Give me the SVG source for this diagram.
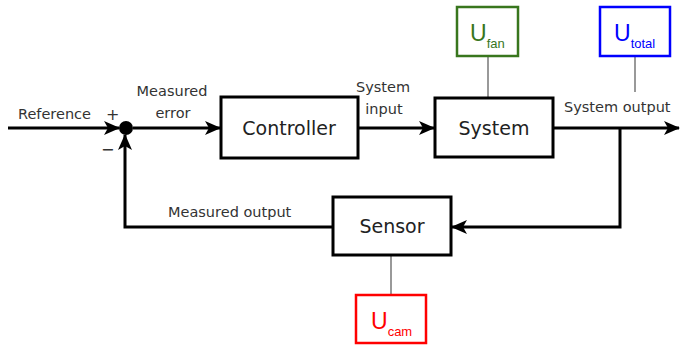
<svg xmlns="http://www.w3.org/2000/svg" width="681" height="347" viewBox="0 0 681 347">
<defs>
<marker id="arr" markerWidth="16" markerHeight="14" refX="15" refY="7" orient="auto" markerUnits="userSpaceOnUse">
<path d="M0,0 L16,7 L0,14 L4,7 z" fill="#000"/>
</marker>
<style>
.box{fill:#fff;stroke:#000;stroke-width:3}
.ln{fill:none;stroke:#000;stroke-width:3}
.lbl{font-family:"DejaVu Sans",sans-serif;font-size:14.5px;fill:#333}
.big{font-family:"DejaVu Sans",sans-serif;font-size:19px;fill:#222;text-anchor:middle}
.thin{stroke:#777;stroke-width:1.5;fill:none}
.u{font-family:"Liberation Sans",Arial,sans-serif;font-size:23px}
.sub{font-size:13px}
</style>
</defs>
<rect width="681" height="347" fill="#fff"/>
<g id="connectors">
<line class="ln" x1="8" y1="128" x2="119" y2="128" marker-end="url(#arr)"/>
<line class="ln" x1="133" y1="128" x2="220" y2="128" marker-end="url(#arr)"/>
<line class="ln" x1="358" y1="128" x2="434" y2="128" marker-end="url(#arr)"/>
<line class="ln" x1="553" y1="128" x2="679" y2="128" marker-end="url(#arr)"/>
<polyline class="ln" points="620,128 620,227 452,227" marker-end="url(#arr)"/>
<polyline class="ln" points="333,227 125,227 125,135" marker-end="url(#arr)"/>
<line class="thin" x1="488" y1="56" x2="488" y2="97"/>
<line class="thin" x1="635" y1="56" x2="635" y2="92"/>
<line class="thin" x1="391" y1="256" x2="391" y2="295"/>
</g>
<g id="sum">
<circle cx="126" cy="128" r="7" fill="#000"/>
<text class="lbl" x="106" y="120" style="font-size:16px">+</text>
<text class="lbl" x="101" y="155" style="font-size:16px">−</text>
</g>
<g id="labels">
<text class="lbl" x="18" y="119">Reference</text>
<text class="lbl" x="172" y="96" text-anchor="middle">Measured</text>
<text class="lbl" x="173" y="118" text-anchor="middle">error</text>
<text class="lbl" x="383" y="92" text-anchor="middle">System</text>
<text class="lbl" x="384" y="114" text-anchor="middle">input</text>
<text class="lbl" x="564" y="112">System output</text>
<text class="lbl" x="168" y="217">Measured output</text>
</g>
<g id="controller">
<rect class="box" x="221" y="97" width="137" height="61"/>
<text class="big" x="289" y="135">Controller</text>
</g>
<g id="system">
<rect class="box" x="435" y="98" width="118" height="59"/>
<text class="big" x="494" y="135">System</text>
</g>
<g id="sensor">
<rect class="box" x="333" y="197" width="118" height="58"/>
<text class="big" x="392" y="233">Sensor</text>
</g>
<g id="ufan">
<rect x="457" y="7" width="61" height="49" fill="#fff" stroke="#38761d" stroke-width="2.5"/>
<text class="u" x="470" y="41" fill="#38761d">U<tspan class="sub" dy="7">fan</tspan></text>
</g>
<g id="utotal">
<rect x="600" y="7" width="70" height="49" fill="#fff" stroke="#0000ff" stroke-width="2.5"/>
<text class="u" x="614" y="41" fill="#0000ff">U<tspan class="sub" dy="7">total</tspan></text>
</g>
<g id="ucam">
<rect x="356" y="295" width="70" height="48" fill="#fff" stroke="#ff0000" stroke-width="2.5"/>
<text class="u" x="371" y="329" fill="#ff0000">U<tspan class="sub" dy="7">cam</tspan></text>
</g>
</svg>
